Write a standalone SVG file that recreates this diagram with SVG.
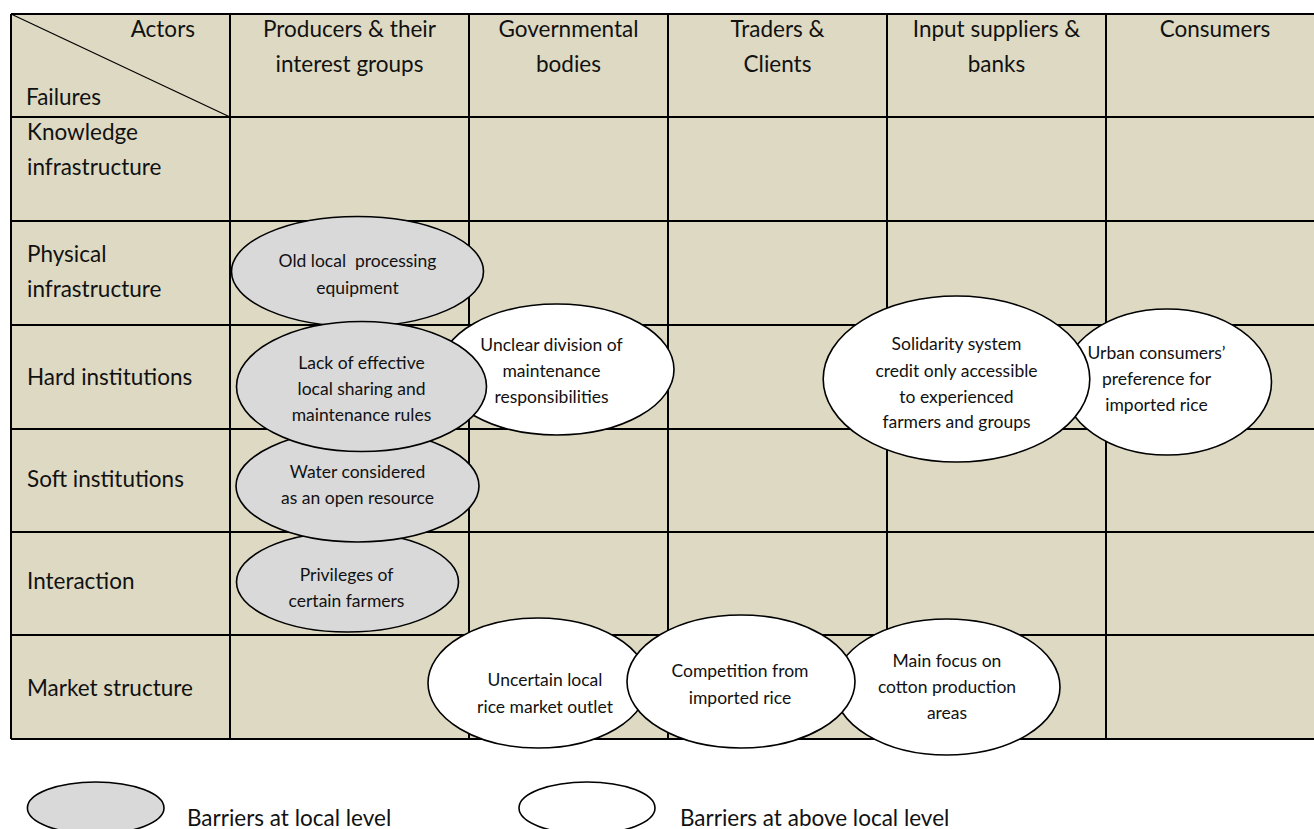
<svg xmlns="http://www.w3.org/2000/svg" width="1314" height="829" viewBox="0 0 1314 829">
  <style>
    .cell { fill: #DDD9C3; stroke: none; }
    .grid { stroke: #000; stroke-width: 2; fill: none; }
    .diag { stroke: #000; stroke-width: 1.2; }
    .hdr { font-family: Lato, "Liberation Sans", sans-serif; font-size: 22.5px; fill: #111; text-anchor: middle; }
    .lbl { font-family: Lato, "Liberation Sans", sans-serif; font-size: 22.5px; fill: #111; }
    .local { fill: #D9D9D9; stroke: #000; stroke-width: 1.6; }
    .above { fill: #FFFFFF; stroke: #000; stroke-width: 1.6; }
    .etx { font-family: Lato, "Liberation Sans", sans-serif; font-size: 17.5px; fill: #111; text-anchor: middle; }
  </style>

  <rect width="1314" height="829" fill="#FFFFFF"/>

  <!-- table background and rules -->
  <g id="table">
    <rect class="cell" x="11" y="14" width="1310" height="725"/>
    <path class="grid" d="M11 14 H1320 M11 117 H1320 M11 221 H1320 M11 325 H1320 M11 429 H1320 M11 532 H1320 M11 635 H1320 M11 739 H1320
                          M11 14 V739 M230 14 V739 M469 14 V739 M668 14 V739 M887 14 V739 M1106 14 V739"/>
    <line class="diag" x1="11" y1="14" x2="230" y2="117"/>
  </g>

  <!-- column headers -->
  <g id="headers">
    <text class="lbl" x="195" y="37" text-anchor="end">Actors</text>
    <text class="lbl" x="26" y="105">Failures</text>
    <text class="hdr" x="349.5" y="37">Producers &amp; their</text>
    <text class="hdr" x="349.5" y="72">interest groups</text>
    <text class="hdr" x="568.5" y="37">Governmental</text>
    <text class="hdr" x="568.5" y="72">bodies</text>
    <text class="hdr" x="777.5" y="37">Traders &amp;</text>
    <text class="hdr" x="777.5" y="72">Clients</text>
    <text class="hdr" x="996.5" y="37">Input suppliers &amp;</text>
    <text class="hdr" x="996.5" y="72">banks</text>
    <text class="hdr" x="1215" y="37">Consumers</text>
  </g>

  <!-- row labels -->
  <g id="rows">
    <text class="lbl" x="27" y="140">Knowledge</text>
    <text class="lbl" x="27" y="175">infrastructure</text>
    <text class="lbl" x="27" y="262">Physical</text>
    <text class="lbl" x="27" y="297">infrastructure</text>
    <text class="lbl" x="27" y="385">Hard institutions</text>
    <text class="lbl" x="27" y="487">Soft institutions</text>
    <text class="lbl" x="27" y="589">Interaction</text>
    <text class="lbl" x="27" y="696">Market structure</text>
  </g>

  <!-- barrier nodes -->
  <g id="old-equipment">
    <ellipse class="local" cx="357.5" cy="271.5" rx="126" ry="55"/>
    <text class="etx" x="357.5" y="267" xml:space="preserve">Old local  processing</text>
    <text class="etx" x="357.5" y="294">equipment</text>
  </g>

  <g id="unclear-division">
    <ellipse class="above" cx="557" cy="369.5" rx="117" ry="65.5"/>
    <text class="etx" x="551.5" y="350.5">Unclear division of</text>
    <text class="etx" x="551.5" y="377">maintenance</text>
    <text class="etx" x="551.5" y="403">responsibilities</text>
  </g>

  <g id="privileges">
    <ellipse class="local" cx="347.5" cy="582" rx="111" ry="50"/>
    <text class="etx" x="346.5" y="580.5">Privileges of</text>
    <text class="etx" x="346.5" y="606.5">certain farmers</text>
  </g>

  <g id="water-open">
    <ellipse class="local" cx="357.5" cy="486" rx="121.5" ry="56"/>
    <text class="etx" x="357.5" y="478">Water considered</text>
    <text class="etx" x="357.5" y="504">as an open resource</text>
  </g>

  <g id="sharing-rules">
    <ellipse class="local" cx="361.5" cy="386.5" rx="125" ry="65"/>
    <text class="etx" x="361.5" y="369">Lack of effective</text>
    <text class="etx" x="361.5" y="395">local sharing and</text>
    <text class="etx" x="361.5" y="421">maintenance rules</text>
  </g>

  <g id="urban-preference">
    <ellipse class="above" cx="1167" cy="382" rx="104.5" ry="73"/>
    <text class="etx" x="1156.5" y="358.8">Urban consumers’</text>
    <text class="etx" x="1156.5" y="384.8">preference for</text>
    <text class="etx" x="1156.5" y="410.8">imported rice</text>
  </g>

  <g id="solidarity-credit">
    <ellipse class="above" cx="956.5" cy="379" rx="133.3" ry="83"/>
    <text class="etx" x="956.5" y="349.8">Solidarity system</text>
    <text class="etx" x="956.5" y="376.5">credit only accessible</text>
    <text class="etx" x="956.5" y="402.5">to experienced</text>
    <text class="etx" x="956.5" y="427.5">farmers and groups</text>
  </g>

  <g id="cotton-focus">
    <ellipse class="above" cx="947" cy="687" rx="113" ry="68"/>
    <text class="etx" x="947" y="666.5">Main focus on</text>
    <text class="etx" x="947" y="693">cotton production</text>
    <text class="etx" x="947" y="719">areas</text>
  </g>

  <g id="market-outlet">
    <ellipse class="above" cx="538" cy="683" rx="110" ry="65"/>
    <text class="etx" x="545" y="685.8">Uncertain local</text>
    <text class="etx" x="545" y="712.5">rice market outlet</text>
  </g>

  <g id="import-competition">
    <ellipse class="above" cx="741" cy="681.5" rx="114" ry="66.5"/>
    <text class="etx" x="740" y="677">Competition from</text>
    <text class="etx" x="740" y="704">imported rice</text>
  </g>

  <!-- no connectors in this chart -->
  <g id="connectors"/>

  <!-- legend -->
  <g id="legend-local">
    <ellipse class="local" cx="95.7" cy="808" rx="68.3" ry="26"/>
    <text class="lbl" x="187" y="826">Barriers at local level</text>
  </g>
  <g id="legend-above">
    <ellipse class="above" cx="587" cy="808" rx="68" ry="26"/>
    <text class="lbl" x="680" y="826">Barriers at above local level</text>
  </g>
</svg>
